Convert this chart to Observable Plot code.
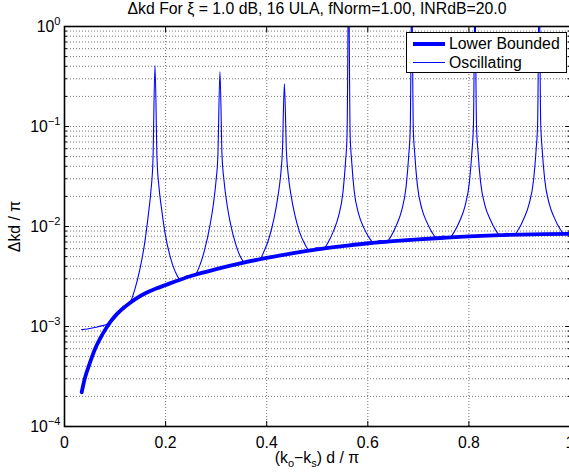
<!DOCTYPE html>
<html>
<head>
<meta charset="utf-8">
<script src="https://cdn.jsdelivr.net/npm/d3@7"></script>
<script src="https://cdn.jsdelivr.net/npm/@observablehq/plot@0.6"></script>
<style>
  html, body { margin: 0; padding: 0; background: #fff; }
  body { width: 569px; height: 473px; overflow: hidden; }
  #wrap { position: relative; width: 569px; height: 473px; font-family: "Liberation Sans", Arial, Helvetica, sans-serif; color: #000; }
  #title { position: absolute; left: 64px; width: 506px; top: 0px; text-align: center; font-size: 15.8px; line-height: 18px; white-space: nowrap; }
  #chart { position: absolute; left: 0; top: 20px; }
  #xlabel { position: absolute; left: 64px; width: 506px; top: 449px; text-align: center; font-size: 15.8px; line-height: 18px; white-space: nowrap; }
  #xlabel sub { font-size: 11px; vertical-align: -4px; line-height: 0; }
  #legend { position: absolute; left: 406px; top: 32px; width: 161px; height: 41px; box-sizing: border-box; border: 1px solid #000; background: #fff; padding-top: 1px; }
  #legend .row { height: 19px; line-height: 19px; font-size: 15.8px; white-space: nowrap; display: flex; align-items: center; }
  #legend .sw { display: inline-block; width: 32px; margin-left: 6px; margin-right: 4px; background: #0000ff; }
  #legend .thick { height: 4px; }
  #legend .thin { height: 1px; }
</style>
</head>
<body>
<div id="wrap">
  <div id="title">Δkd For ξ = 1.0 dB, 16 ULA, fNorm=1.00, INRdB=20.0</div>
  <div id="chart"></div>
  <div id="xlabel">(k<sub>o</sub>−k<sub>s</sub>) d / π</div>
  <div id="legend">
    <div class="row"><span class="sw thick"></span><span>Lower Bounded</span></div>
    <div class="row"><span class="sw thin"></span><span>Oscillating</span></div>
  </div>
</div>
<script>
// ---- Data ----
const seriesNames = ["Lower Bounded", "Oscillating"];

const lbX = [0.034, 0.04, 0.05, 0.06, 0.07, 0.08, 0.09, 0.10, 0.12, 0.14, 0.16, 0.18, 0.20, 0.25, 0.30, 0.35,
             0.40, 0.45, 0.50, 0.55, 0.60, 0.65, 0.70, 0.75, 0.80, 0.85, 0.90, 0.95, 1.00];
const lbY = [2.2e-4, 3.0e-4, 4.3e-4, 5.9e-4, 7.5e-4, 9.2e-4, 1.1e-3, 1.27e-3, 1.58e-3, 1.88e-3, 2.15e-3, 2.38e-3, 2.6e-3,
             3.2e-3, 3.75e-3, 4.3e-3, 4.85e-3, 5.4e-3, 5.9e-3, 6.35e-3, 6.8e-3, 7.15e-3, 7.45e-3, 7.7e-3, 7.95e-3,
             8.15e-3, 8.3e-3, 8.4e-3, 8.45e-3];

const oscX = [0.034, 0.045, 0.055, 0.065, 0.075, 0.083, 0.09, 0.1025, 0.1155, 0.129,
  0.139, 0.149, 0.159, 0.166, 0.171, 0.175, 0.179, 0.183, 0.187, 0.192, 0.199, 0.209, 0.219, 0.229, 0.2425,
  0.2575, 0.2675, 0.2775, 0.2875, 0.2945, 0.2995, 0.3035, 0.3075, 0.3115, 0.3155, 0.3205, 0.3275, 0.3375, 0.3475, 0.3575, 0.371,
  0.385, 0.395, 0.405, 0.415, 0.422, 0.427, 0.431, 0.435, 0.439, 0.443, 0.448, 0.455, 0.465, 0.475, 0.485, 0.4985,
  0.512, 0.522, 0.532, 0.542, 0.551, 0.556, 0.559, 0.562, 0.565, 0.568, 0.573, 0.582, 0.592, 0.602, 0.612, 0.6245,
  0.637, 0.647, 0.657, 0.667, 0.676, 0.681, 0.684, 0.687, 0.690, 0.693, 0.698, 0.707, 0.717, 0.727, 0.737, 0.7495,
  0.762, 0.772, 0.782, 0.792, 0.801, 0.806, 0.809, 0.812, 0.815, 0.818, 0.823, 0.832, 0.842, 0.852, 0.862, 0.8755,
  0.889, 0.899, 0.909, 0.919, 0.928, 0.933, 0.936, 0.939, 0.942, 0.945, 0.950, 0.959, 0.969, 0.979, 0.989, 1.0];
const oscY = [9.3e-4, 9.45e-4, 9.65e-4, 9.9e-4, 1.02e-3, 1.05e-3, 1.1e-3, 1.31e-3, 1.57e-3, 1.71e-3,
  2.34e-3, 3.7e-3, 7.06e-3, 0.0133, 0.0228, 0.0466, 0.41, 0.0482, 0.0245, 0.0151, 8.55e-3, 5.0e-3, 3.54e-3, 2.95e-3, 3.22e-3,
  3.27e-3, 4.06e-3, 5.93e-3, 0.0101, 0.0167, 0.0277, 0.0522, 0.355, 0.0535, 0.029, 0.018, 0.0112, 6.97e-3, 5.04e-3, 4.32e-3, 4.65e-3,
  4.63e-3, 5.69e-3, 7.76e-3, 0.0124, 0.0197, 0.0306, 0.0555, 0.267, 0.0565, 0.0316, 0.0208, 0.0135, 8.8e-3, 6.74e-3, 5.72e-3, 6.12e-3,
  6.0e-3, 7.02e-3, 8.99e-3, 0.0126, 0.0223, 0.0448, 0.0836, 3, 0.0844, 0.0456, 0.0229, 0.0133, 9.74e-3, 7.82e-3, 6.87e-3, 7.24e-3,
  7.05e-3, 8.19e-3, 0.0104, 0.0145, 0.0256, 0.0515, 0.0958, 2.5, 0.0963, 0.052, 0.0261, 0.015, 0.011, 8.74e-3, 7.65e-3, 8.03e-3,
  7.79e-3, 9.02e-3, 0.0114, 0.0158, 0.0278, 0.0558, 0.104, 2, 0.104, 0.0561, 0.0281, 0.0161, 0.0118, 9.36e-3, 8.17e-3, 8.55e-3,
  8.26e-3, 9.53e-3, 0.0121, 0.0167, 0.0293, 0.0586, 0.109, 3, 0.109, 0.0587, 0.0294, 0.0168, 0.0122, 9.69e-3, 8.44e-3, 8.62e-3];

const xTicks = [0, 0.2, 0.4, 0.6, 0.8, 1];
const xTickLabels = ["0", "0.2", "0.4", "0.6", "0.8", "1"];
const yTicks = [1e-4, 1e-3, 1e-2, 1e-1, 1];
const yTickExponents = ["−4", "−3", "−2", "−1", "0"];
const yMinorMultipliers = [2, 3, 4, 5, 6, 7, 8, 9];

// ---- Derived tables ----
const lbData = lbX.map((x, i) => ({x, y: lbY[i], series: seriesNames[0]}));
const oscData = oscX.map((x, i) => ({x, y: oscY[i], series: seriesNames[1]}));
const yMinor = [];
yTicks.slice(0, -1).forEach(d => yMinorMultipliers.forEach(m => yMinor.push(d * m)));
const yGrid = yTicks.concat(yMinor);
const xGrid = xTicks.slice(1, -1);
const xLabelOf = new Map(xTicks.map((d, i) => [d, xTickLabels[i]]));
const yExpOf = new Map(yTicks.map((d, i) => [d, yTickExponents[i]]));

const fontFamily = '"Liberation Sans", Arial, Helvetica, sans-serif';
const blue = "#0000ff";
const gridStyle = {stroke: "#000", strokeOpacity: 0.55, strokeDasharray: "1,2", strokeWidth: 1};

const svg = Plot.plot({
  width: 569,
  height: 430,
  marginLeft: 64,
  marginRight: -0.5,
  marginTop: 6,
  marginBottom: 24,
  style: {fontFamily, fontSize: "15.8px", background: "transparent", color: "#000", overflow: "visible"},
  x: {domain: [0, 1], range: [64, 569.5]},
  y: {type: "log", domain: [1e-4, 1], range: [406, 6]},
  marks: [
    Plot.gridX(xGrid, gridStyle),
    Plot.gridY(yGrid, gridStyle),
    Plot.line(lbData, {x: "x", y: "y", stroke: blue, strokeWidth: 3.8, curve: "monotone-x"}),
    Plot.line(oscData, {x: "x", y: "y", stroke: blue, strokeWidth: 1.1, curve: "monotone-x", clip: true}),
    Plot.frame({stroke: "#000", strokeWidth: 1.6}),
    Plot.axisX(xTicks, {anchor: "bottom", tickSize: -5, fill: "none"}),
    Plot.axisX(xTicks, {anchor: "top", tickSize: -5, fill: "none"}),
    Plot.axisY(yTicks, {anchor: "left", tickSize: -5, fill: "none"}),
    Plot.axisY(yTicks, {anchor: "right", tickSize: -5, fill: "none"}),
    Plot.axisY(yMinor, {anchor: "left", tickSize: -3, fill: "none"}),
    Plot.axisY(yMinor, {anchor: "right", tickSize: -3, fill: "none"}),
    Plot.axisX(xTicks, {anchor: "bottom", tickSize: 0, tickPadding: 10, tickFormat: d => xLabelOf.get(d), label: null}),
    Plot.axisY(yTicks, {anchor: "left", tickSize: 0, tickPadding: 4, tickFormat: d => "10^" + yExpOf.get(d),
      label: "Δkd / π", labelAnchor: "center", labelOffset: 56, labelArrow: "none"})
  ]
});

// Turn "10^e" tick labels into a base with a raised exponent
const ns = "http://www.w3.org/2000/svg";
svg.querySelectorAll('[aria-label="y-axis tick label"] text').forEach(el => {
  const parts = el.textContent.split("^");
  if (parts.length !== 2) return;
  el.textContent = parts[0];
  const ts = document.createElementNS(ns, "tspan");
  ts.setAttribute("dy", "-0.55em");
  ts.setAttribute("font-size", "70%");
  ts.textContent = parts[1];
  el.appendChild(ts);
});

document.getElementById("chart").appendChild(svg);
</script>
</body>
</html>
